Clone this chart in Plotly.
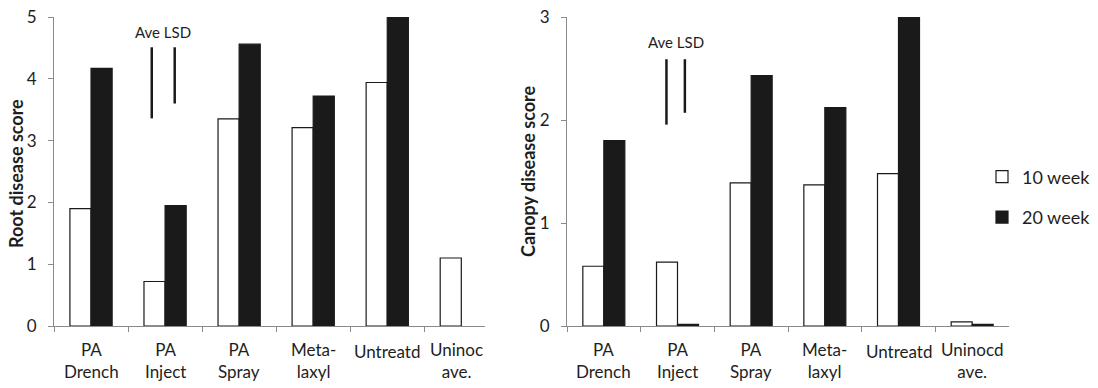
import plotly.graph_objects as go

# ---------------- data ----------------
categories_root = ["PA<br>Drench", "PA<br>Inject", "PA<br>Spray", "Meta-<br>laxyl", "Untreatd", "Uninoc<br>ave."]
categories_canopy = ["PA<br>Drench", "PA<br>Inject", "PA<br>Spray", "Meta-<br>laxyl", "Untreatd", "Uninocd<br>ave."]

root_10wk = [1.90, 0.72, 3.35, 3.21, 3.94, 1.10]
root_20wk = [4.17, 1.95, 4.56, 3.72, 5.00, None]

canopy_10wk = [0.58, 0.62, 1.39, 1.37, 1.48, 0.04]
canopy_20wk = [1.80, 0.015, 2.43, 2.12, 3.00, 0.015]

# Ave LSD bars: (top, bottom) values for 10 week and 20 week
root_lsd_top = [4.51, 4.51]
root_lsd_bottom = [3.36, 3.60]
canopy_lsd_top = [2.59, 2.59]
canopy_lsd_bottom = [1.955, 2.07]

series_names = ["10 week", "20 week"]
y_ticks_root = [0, 1, 2, 3, 4, 5]
y_ticks_canopy = [0, 1, 2, 3]

# ---------------- figure ----------------
W, H = 1098, 388
FONT = "Lato"
AXIS_GREY = "#8a8a8a"
TEXT = "#1e1e1e"
BLACK = "#1a1a1a"

def px_x(p):
    return p / W

def px_y(p):
    return 1 - p / H

xs = list(range(len(categories_root)))

fig = go.Figure()
fig.add_trace(go.Bar(x=xs, y=root_10wk, name=series_names[0], legendgroup="a",
                     marker=dict(color="white", line=dict(color=BLACK, width=1.2)),
                     xaxis="x", yaxis="y"))
fig.add_trace(go.Bar(x=xs, y=root_20wk, name=series_names[1], legendgroup="b",
                     marker=dict(color=BLACK, line=dict(color=BLACK, width=1.2)),
                     xaxis="x", yaxis="y"))
fig.add_trace(go.Bar(x=xs, y=canopy_10wk, name=series_names[0], legendgroup="a", showlegend=False,
                     marker=dict(color="white", line=dict(color=BLACK, width=1.2)),
                     xaxis="x2", yaxis="y2"))
fig.add_trace(go.Bar(x=xs, y=canopy_20wk, name=series_names[1], legendgroup="b", showlegend=False,
                     marker=dict(color=BLACK, line=dict(color=BLACK, width=1.2)),
                     xaxis="x2", yaxis="y2"))

boundaries = [i - 0.5 for i in xs]

common_x = dict(tickmode="array", tickvals=boundaries, ticktext=[""] * len(boundaries),
                ticks="outside", ticklen=5, tickcolor=AXIS_GREY, tickwidth=1,
                showline=True, linecolor=AXIS_GREY, linewidth=1, showgrid=False,
                zeroline=False, fixedrange=True, automargin=False)
common_y = dict(ticks="outside", ticklen=5, tickcolor=AXIS_GREY, tickwidth=1,
                showline=True, linecolor=AXIS_GREY, linewidth=1, showgrid=False,
                zeroline=False, tickfont=dict(family=FONT, size=17, color=TEXT),
                ticklabelstandoff=8, automargin=False, fixedrange=True)

plot_top, plot_bot = 17, 326
fig.update_layout(
    width=W, height=H,
    margin=dict(l=0, r=0, t=0, b=0, autoexpand=False),
    paper_bgcolor="white", plot_bgcolor="white",
    barmode="group", bargap=0.43, bargroupgap=0,
    font=dict(family=FONT, color=TEXT),
    xaxis=dict(domain=[px_x(54), px_x(485)], range=[-0.5, 5.32], anchor="y", **common_x),
    yaxis=dict(domain=[px_y(plot_bot), px_y(plot_top)], range=[0, 5], anchor="x",
               tickvals=y_ticks_root, **common_y),
    xaxis2=dict(domain=[px_x(567), px_x(1009)], range=[-0.5, 5.5], anchor="y2", **common_x),
    yaxis2=dict(domain=[px_y(plot_bot), px_y(plot_top)], range=[0, 3], anchor="x2",
                tickvals=y_ticks_canopy, **common_y),
    legend=dict(x=px_x(982), y=px_y(197), xanchor="left", yanchor="middle",
                font=dict(family=FONT, size=18, color=TEXT),
                traceorder="grouped", tracegroupgap=14, bgcolor="rgba(0,0,0,0)"),
    showlegend=True,
)

annotations = []
# category labels
for xa, cats in (("x", categories_root), ("x2", categories_canopy)):
    for i, c in enumerate(cats):
        two = "<br>" in c
        shift = -0.06 if (xa == "x" and i == len(cats) - 1) else 0
        annotations.append(dict(x=i + shift, y=px_y(360 if two else 351), xref=xa, yref="paper",
                                text=c, showarrow=False, xanchor="center", yanchor="middle",
                                font=dict(family=FONT, size=17, color=TEXT)))

# axis titles
annotations.append(dict(x=px_x(16), y=px_y(174), xref="paper", yref="paper",
                        text="<b>Root disease score</b>", textangle=-90, showarrow=False,
                        xanchor="center", yanchor="middle",
                        font=dict(family=FONT, size=18, color=TEXT)))
annotations.append(dict(x=px_x(528), y=px_y(172), xref="paper", yref="paper",
                        text="<b>Canopy disease score</b>", textangle=-90, showarrow=False,
                        xanchor="center", yanchor="middle",
                        font=dict(family=FONT, size=18, color=TEXT)))

# Ave LSD labels
annotations.append(dict(x=0.975, y=4.76, xref="x", yref="y", text="Ave LSD",
                        showarrow=False, xanchor="center", yanchor="middle",
                        font=dict(family=FONT, size=15, color=TEXT)))
annotations.append(dict(x=0.975, y=2.76, xref="x2", yref="y2", text="Ave LSD",
                        showarrow=False, xanchor="center", yanchor="middle",
                        font=dict(family=FONT, size=15, color=TEXT)))

shapes = []
for xpos, top, bot in zip([0.82, 1.13], root_lsd_top, root_lsd_bottom):
    shapes.append(dict(type="line", xref="x", yref="y", x0=xpos, x1=xpos, y0=bot, y1=top,
                       line=dict(color=BLACK, width=2.5)))
for xpos, top, bot in zip([0.85, 1.10], canopy_lsd_top, canopy_lsd_bottom):
    shapes.append(dict(type="line", xref="x2", yref="y2", x0=xpos, x1=xpos, y0=bot, y1=top,
                       line=dict(color=BLACK, width=2.5)))

fig.update_layout(annotations=annotations, shapes=shapes)

fig.write_html("out.html", config={"displayModeBar": False},
               post_script="document.body.style.margin='0';")
